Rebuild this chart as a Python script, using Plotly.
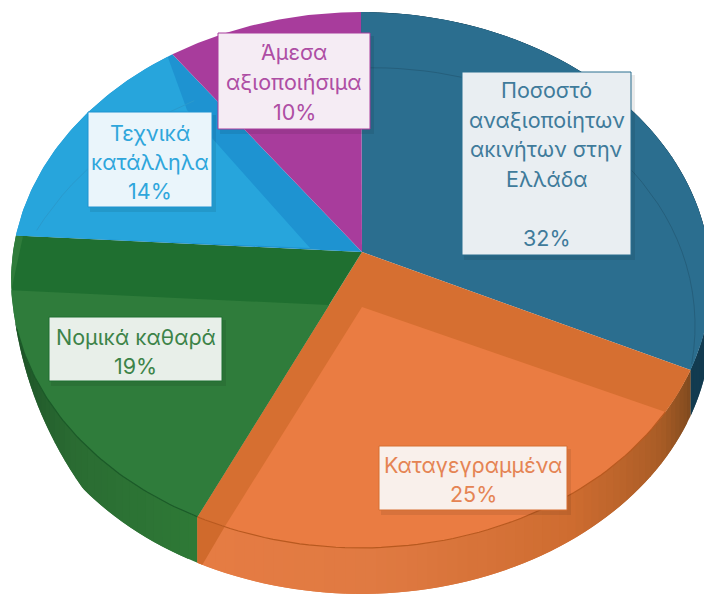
import math
import plotly.graph_objects as go

# Data
categories = [["Ποσοστό", "αναξιοποίητων", "ακινήτων στην", "Ελλάδα", ""],
              ["Καταγεγραμμένα"], ["Νομικά καθαρά"], ["Τεχνικά", "κατάλληλα"], ["Άμεσα", "αξιοποιήσιμα"]]
shares = [32, 25, 19, 14, 10]

# Styles
top_colors = ["#2B6E8F", "#D66F31", "#1F6F30", "#1E93D1", "#A83C9C"]
light_colors = [None, "#EA7C42", "#2F7C3B", "#27A5DC", None]
text_colors = ["#3F7B9B", "#E58453", "#3C8348", "#2FA6DB", "#AE4EA4"]
box_fill = ["#E9EEF2", "#F9F0EB", "#E8EFE9", "#EAF5FB", "#F5ECF4"]
wall_stops = [
    [(0.0, "#123B50"), (1.0, "#123B50")],
    [(0.0, "#7F4A1E"), (0.12, "#A85C26"), (0.35, "#CE6C30"), (0.7, "#E07A42"), (1.0, "#E67C43")],
    [(0.0, "#2E7936"), (0.5, "#2A6B32"), (0.85, "#1F5629"), (1.0, "#1C4F26")],
    None, None]

# Picture geometry: a tilted disc seen in perspective
AX, AY, RX, RY, K, DEPTH = 361, 252, 348, 265, 0.1045, 46


def project(t_deg, r=1.0):
    t = math.radians(t_deg)
    u, v = r * math.sin(t), r * math.cos(t)
    w = 1 + K * v
    return AX + RX * u / w, AY - RY * v / w


def wall_depth(t):
    # the wall narrows away towards the left-hand side of the disc
    return DEPTH * max(0.0, min(1.0, (256 - t) / 28))


def arc(t0, t1, r=1.0, n=60):
    return [project(t0 + (t1 - t0) * i / n, r) for i in range(n + 1)]


def poly(fig, pts, color):
    fig.add_trace(go.Scatter(x=[p[0] for p in pts] + [pts[0][0]], y=[p[1] for p in pts] + [pts[0][1]],
                             mode="lines", fill="toself", fillcolor=color,
                             line=dict(width=0, color=color), hoverinfo="skip", showlegend=False))


def mix(stops, f):
    for (f0, c0), (f1, c1) in zip(stops, stops[1:]):
        if f <= f1:
            a = (f - f0) / (f1 - f0 or 1)
            ch = [round(int(c0[i:i + 2], 16) * (1 - a) + int(c1[i:i + 2], 16) * a) for i in (1, 3, 5)]
            return "rgb(%d,%d,%d)" % tuple(ch)
    return stops[-1][1]


bounds = [0.0]
for s in shares:
    bounds.append(bounds[-1] + s * 3.6)

fig = go.Figure()
apex = (AX + 1, AY)

# side wall, in thin slices so that it can be shaded
for i, stops in enumerate(wall_stops):
    if not stops:
        continue
    t0, t1 = bounds[i], min(bounds[i + 1], 256)
    n = max(2, int((t1 - t0) / 1.5))
    for j in range(n):
        a, b = t0 + (t1 - t0) * j / n, min(t0 + (t1 - t0) * (j + 2) / n, t1)
        ts = [a + (b - a) * m / 3 for m in range(4)]
        upper = [project(t) for t in ts]
        lower = [(project(t)[0], project(t)[1] + wall_depth(t)) for t in reversed(ts)]
        poly(fig, upper + lower, mix(stops, (j + 0.5) / n))

# top faces
for i in range(len(shares)):
    poly(fig, [apex] + arc(bounds[i], bounds[i + 1]), top_colors[i])

# lighter inner faces
orange_t = (bounds[1] + 9.4, bounds[2] - 4.5)
poly(fig, [(AX + 1, AY + 55)] + arc(*orange_t), light_colors[1])
green_pts = [project(bounds[2])] + arc(bounds[2], bounds[3] - 11.8)[1:] + [(AX - 32, AY + 53)]
poly(fig, green_pts, light_colors[2])
left_end = project(bounds[3])
poly(fig, arc(bounds[3] - 11.8, bounds[3], n=12) + [(left_end[0] + 7, left_end[1] + 1)], light_colors[2])
poly(fig, [(AX - 51, AY - 4), project(bounds[3])] + arc(bounds[3], bounds[4] - 1.0)[1:] + [(AX - 174, AY - 142)],
     light_colors[3])

# front corner of the orange band on the wall
c0 = project(bounds[2])
c1 = project(bounds[2] - 4.5)
poly(fig, [c0, c1, (c0[0] + 5, c0[1] + DEPTH + 2), (c0[0], c0[1] + DEPTH)], "#D06A2C")

# rim lines
for pts, col, wd in [
    (arc(bounds[1] + 9.4, bounds[2]), "#B8591F", 1.2),
    (arc(bounds[2], bounds[3] - 20), "#1B5A28", 1.2),
    ([project(t, 0.75 + 0.25 * (t / bounds[1]) ** 1.5) for t in range(0, 116, 3)], "#255F7C", 1),
    ([project(360 - t, 0.75 + 0.2 * (t / 86.4) ** 2) for t in range(40, 87, 3)], "#2A9ACD", 1),
]:
    fig.add_trace(go.Scatter(x=[p[0] for p in pts], y=[p[1] for p in pts], mode="lines",
                             line=dict(color=col, width=wd), hoverinfo="skip", showlegend=False))

# label boxes (left, top, right, bottom) and first line centre with line step
boxes = [(462, 72, 631, 255), (379, 446, 567, 510), (49, 317, 222, 381), (88, 112, 212, 207), (218, 33, 370, 129)]
first_line = [90, 465, 337, 133, 52]
step = [29.5, 29, 29, 29, 30]

shapes, annos = [], []
for i, (x0, y0, x1, y1) in enumerate(boxes):
    shapes.append(dict(type="rect", x0=x0 + 2, y0=y0 + 3, x1=x1 + 4, y1=y1 + 5, xref="x", yref="y",
                       fillcolor="rgba(0,0,0,0.08)", line=dict(width=0)))
    shapes.append(dict(type="rect", x0=x0, y0=y0, x1=x1, y1=y1, xref="x", yref="y",
                       fillcolor=box_fill[i], line=dict(color=top_colors[i], width=1)))
    lines = categories[i] + [f"{shares[i]}%"]
    for j, txt in enumerate(lines):
        if not txt:
            continue
        annos.append(dict(x=(x0 + x1) / 2, y=first_line[i] + step[i] * j, xref="x", yref="y", text=txt,
                          showarrow=False, xanchor="center", yanchor="middle",
                          font=dict(family="Inter, 'Open Sans', sans-serif", size=21.5, color=text_colors[i])))

fig.update_layout(
    width=704, height=594, margin=dict(l=0, r=0, t=0, b=0),
    paper_bgcolor="white", plot_bgcolor="white", showlegend=False,
    xaxis=dict(range=[0, 704], visible=False, fixedrange=True),
    yaxis=dict(range=[594, 0], visible=False, fixedrange=True),
    shapes=shapes, annotations=annos,
)
fig.write_html("out.html", config=dict(displayModeBar=False),
               post_script="document.body.style.margin='0';document.body.style.overflow='hidden';")
